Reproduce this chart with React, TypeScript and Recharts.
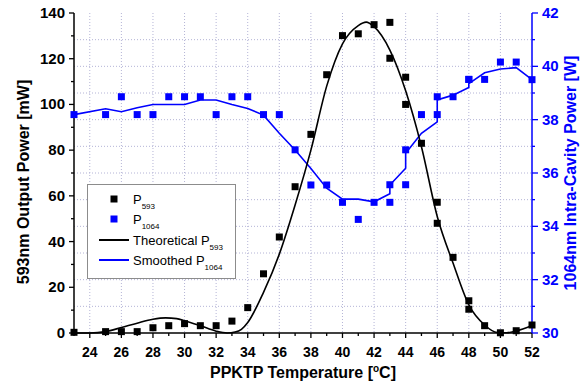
import {
  CartesianGrid,
  ComposedChart,
  Label,
  Legend,
  Line,
  Scatter,
  XAxis,
  YAxis,
} from 'recharts';

// PPKTP temperature scan: 593nm output vs 1064nm intra-cavity power.
// Some temperatures were measured twice, so x values repeat.

const FONT = '"Liberation Sans", Arial, Helvetica, sans-serif';
const BLUE = '#0000ff';
const GRID = '#b4b4d6';

const measuredT = [
  23, 25, 26, 27, 28, 29, 30, 31, 32, 33, 34, 35, 36, 37, 38, 39, 40, 41, 42,
  43, 43, 44, 44, 45, 46, 46, 47, 48, 48, 49, 50, 51, 52,
];
// mW
const p593 = [
  0.3, 0.6, 0.6, 0.6, 2.3, 3.2, 4.1, 3.2, 3.2, 5.2, 11.1, 25.9, 42.0, 64.0,
  86.9, 113.0, 130.1, 130.9, 134.9, 135.9, 120.2, 111.9, 100.0, 83.0, 57.2,
  48.0, 33.1, 14.1, 10.4, 3.2, 0.1, 1.0, 3.5,
];
// W
const p1064 = [
  38.19, 38.19, 38.86, 38.19, 38.19, 38.86, 38.86, 38.86, 38.19, 38.86, 38.86,
  38.19, 38.19, 36.87, 35.55, 35.55, 34.9, 34.26, 34.9, 35.56, 34.9, 36.87,
  35.56, 38.19, 38.19, 38.86, 38.86, 39.51, 39.51, 39.51, 40.16, 40.16, 39.5,
];
// W, adjacent-averaged P1064 (same x sequence as the measurements)
const smoothed1064 = [
  38.19, 38.41, 38.3, 38.45, 38.57, 38.57, 38.57, 38.74, 38.74, 38.57, 38.42,
  38.17, 37.49, 36.86, 36.17, 35.43, 35.02, 35.02, 34.92, 35.22, 35.55, 36.18,
  36.74, 37.49, 37.92, 38.74, 38.92, 39.21, 39.35, 39.76, 39.9, 39.95, 39.5,
];

const theoryT = [
  23, 24, 25, 26, 27, 28, 28.8, 29.5, 30, 31, 32, 32.7, 33.2, 33.6, 34, 35, 36,
  37, 38, 39, 40, 41, 41.5, 42, 43, 44, 45, 46, 47, 48, 49, 49.8, 50.4, 51, 52,
];
const theoryP593 = [
  0, 0, 0.6, 2.4, 4.3, 6.0, 6.6, 6.3, 5.4, 3.2, 0.8, 0, 0.4, 1.6, 4.6, 17.8,
  34.5, 56, 80, 108, 126.5, 134.5, 136, 134, 123.8, 106, 81.5, 51, 30.6, 12.3,
  3.5, 0.2, 0.1, 0.9, 3.3,
];

const xTicks = Array.from({ length: 30 }, (_, i) => 23 + i);
const leftTicks = Array.from({ length: 15 }, (_, i) => i * 10);
const rightTicks = Array.from({ length: 13 }, (_, i) => 30 + i);
const gridT = [24, 26, 28, 30, 32, 34, 36, 38, 40, 42, 44, 46, 48, 50];
const gridW = [31, 32, 33, 34, 35, 36, 37, 38, 39, 40, 41];

const measured = measuredT.map((t, i) => ({
  x: t,
  p593: p593[i],
  p1064: p1064[i],
  smooth: smoothed1064[i],
}));
const theory = theoryT.map((t, i) => ({ x: t, theory: theoryP593[i] }));

const XTick = ({ x, y, payload }: any) => {
  const major = payload.value % 2 === 0;
  return (
    <g>
      <line x1={x} x2={x} y1={y} y2={y + (major ? 5 : 3)} stroke="#000" strokeWidth={1.3} />
      {major && (
        <text x={x} y={y + 24} textAnchor="middle" fontSize={14} fontWeight="bold" fontFamily={FONT} fill="#000">
          {payload.value}
        </text>
      )}
    </g>
  );
};

const LeftTick = ({ x, y, payload }: any) => {
  const major = payload.value % 20 === 0;
  return (
    <g>
      <line x1={x - (major ? 5 : 3)} x2={x} y1={y} y2={y} stroke="#000" strokeWidth={1.3} />
      {major && (
        <text x={x - 9} y={y + 5} textAnchor="end" fontSize={15} fontWeight="bold" fontFamily={FONT} fill="#000">
          {payload.value}
        </text>
      )}
    </g>
  );
};

const RightTick = ({ x, y, payload }: any) => {
  const major = payload.value % 2 === 0;
  return (
    <g>
      <line x1={x} x2={x + (major ? 6 : 3)} y1={y} y2={y} stroke={BLUE} strokeWidth={1.3} />
      {major && (
        <text x={x + 10} y={y + 5} textAnchor="start" fontSize={15} fontWeight="bold" fontFamily={FONT} fill={BLUE}>
          {payload.value}
        </text>
      )}
    </g>
  );
};

const XTitle = ({ viewBox }: any) => (
  <text x={viewBox.x + viewBox.width / 2} y={viewBox.y + 45} textAnchor="middle" fontSize={16} fontWeight="bold" fontFamily={FONT} fill="#000">
    PPKTP Temperature [<tspan dy={-6} fontSize={10}>o</tspan>
    <tspan dy={6}>C]</tspan>
  </text>
);

const LeftTitle = ({ viewBox }: any) => {
  const cx = viewBox.x + 29;
  const cy = viewBox.y + viewBox.height / 2 + 9;
  return (
    <text x={cx} y={cy} transform={`rotate(-90, ${cx}, ${cy})`} textAnchor="middle" fontSize={16} fontWeight="bold" fontFamily={FONT} fill="#000">
      593nm Output Power [mW]
    </text>
  );
};

const RightTitle = ({ viewBox }: any) => {
  const cx = viewBox.x + 44;
  const cy = viewBox.y + viewBox.height / 2;
  return (
    <text x={cx} y={cy} transform={`rotate(-90, ${cx}, ${cy})`} textAnchor="middle" fontSize={16} fontWeight="bold" fontFamily={FONT} fill={BLUE}>
      1064nm Intra-Cavity Power [W]
    </text>
  );
};

const square = (color: string) => (p: any) =>
  <rect x={p.cx - 3.5} y={p.cy - 3.5} width={7} height={7} fill={color} />;

function LegendBox() {
  const row = (y: number, marker: 'dot' | 'line', color: string, pre: string, sub: string) => (
    <g key={pre + sub}>
      {marker === 'dot' ? (
        <rect x={23.5} y={y - 3.5} width={7} height={7} fill={color} />
      ) : (
        <line x1={12} x2={42} y1={y} y2={y} stroke={color} strokeWidth={2} />
      )}
      <text x={46} y={y + 4.5} fontSize={13} fontFamily={FONT} fill="#000">
        {pre}P<tspan dy={5} fontSize={8}>{sub}</tspan>
      </text>
    </g>
  );
  return (
    <svg width={149} height={95} style={{ display: 'block' }}>
      <rect x={0.5} y={0.5} width={148} height={94} fill="#fff" stroke="#8c8c8c" />
      {row(15, 'dot', '#000', '', '593')}
      {row(35, 'dot', BLUE, '', '1064')}
      {row(56, 'line', '#000', 'Theoretical ', '593')}
      {row(76, 'line', BLUE, 'Smoothed ', '1064')}
    </svg>
  );
}

export default function App() {
  return (
    <div style={{ position: 'absolute', left: 0, top: 0, width: 582, height: 390, background: '#fff' }}>
      <ComposedChart width={582} height={390} margin={{ top: 13, right: 0, bottom: 0, left: 0 }}>
        <CartesianGrid
          yAxisId="right"
          verticalValues={gridT}
          horizontalValues={gridW}
          stroke={GRID}
          strokeDasharray="1 2"
        />
        <XAxis
          type="number"
          dataKey="x"
          domain={[23, 52]}
          ticks={xTicks}
          interval={0}
          height={57}
          tickSize={0}
          tickMargin={0}
          tickLine={false}
          tick={<XTick />}
          axisLine={{ stroke: '#000', strokeWidth: 1.5 }}
        >
          <Label content={XTitle} />
        </XAxis>
        <XAxis
          xAxisId="top"
          orientation="top"
          type="number"
          dataKey="x"
          domain={[23, 52]}
          height={0}
          tick={false}
          tickLine={false}
          axisLine={{ stroke: '#000', strokeWidth: 1.5 }}
        />
        <YAxis
          yAxisId="left"
          type="number"
          domain={[0, 140]}
          ticks={leftTicks}
          interval={0}
          width={74}
          tickSize={0}
          tickMargin={0}
          tickLine={false}
          tick={<LeftTick />}
          axisLine={{ stroke: '#000', strokeWidth: 1.5 }}
        >
          <Label content={LeftTitle} />
        </YAxis>
        <YAxis
          yAxisId="right"
          orientation="right"
          type="number"
          domain={[30, 42]}
          ticks={rightTicks}
          interval={0}
          width={50}
          tickSize={0}
          tickMargin={0}
          tickLine={false}
          tick={<RightTick />}
          axisLine={{ stroke: BLUE, strokeWidth: 1.5 }}
        >
          <Label content={RightTitle} />
        </YAxis>
        <Line
          yAxisId="right"
          data={measured}
          dataKey="smooth"
          type="linear"
          stroke={BLUE}
          strokeWidth={1.6}
          dot={false}
          isAnimationActive={false}
        />
        <Line
          yAxisId="left"
          data={theory}
          dataKey="theory"
          type="monotone"
          stroke="#000"
          strokeWidth={1.6}
          dot={false}
          isAnimationActive={false}
        />
        <Scatter
          yAxisId="right"
          data={measured}
          dataKey="p1064"
          shape={square(BLUE)}
          isAnimationActive={false}
        />
        <Scatter
          yAxisId="left"
          data={measured}
          dataKey="p593"
          shape={square('#000')}
          isAnimationActive={false}
        />
        <Legend
          layout="vertical"
          align="center"
          verticalAlign="middle"
          content={() => <LegendBox />}
          wrapperStyle={{ left: 87, top: 184, width: 149, height: 95 }}
        />
      </ComposedChart>
    </div>
  );
}
